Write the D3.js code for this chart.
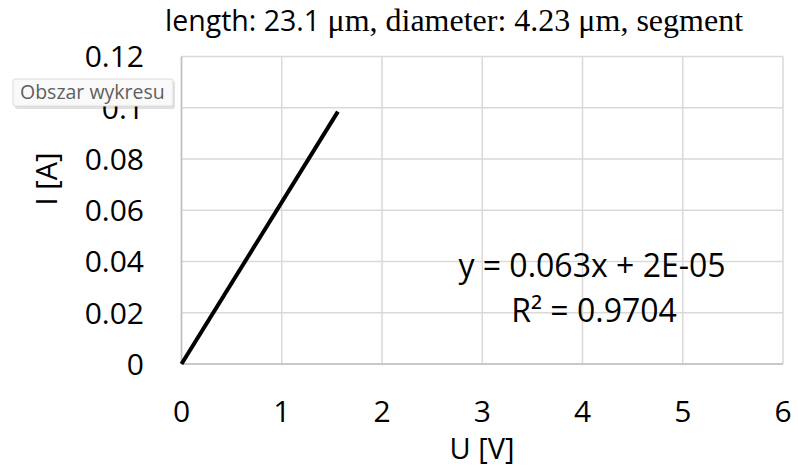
<!DOCTYPE html>
<html>
<meta charset="utf-8">
<style>
  body { margin: 0; background: #fff; }
  .grid line { stroke: #d9d9d9; stroke-width: 1.5; }
  .tick-label { font-family: "Open Sans", sans-serif; font-size: 30px; fill: #000; }
  .axis-title { font-family: "Open Sans", sans-serif; font-size: 29px; fill: #000; }
  .title { font-size: 32px; fill: #000; }
  .eq { font-family: "Open Sans", sans-serif; font-size: 32px; fill: #000; }
</style>

<body>
  <script src="https://d3js.org/d3.v7.min.js"></script>

  <script>
    let width = 798,
      height = 467;

    // data
    let uValues = [0, 1.56];
    let iValues = [0, 0.0985];
    let xTicks = [0, 1, 2, 3, 4, 5, 6];
    let yTicks = [0, 0.02, 0.04, 0.06, 0.08, 0.1, 0.12];
    let yTickLabels = ["0", "0.02", "0.04", "0.06", "0.08", "0.1", "0.12"];
    let equationLines = ["y = 0.063x + 2E-05", "R² = 0.9704"];

    let x = d3.scaleLinear().domain([0, 6]).range([181.5, 783]);
    let y = d3.scaleLinear().domain([0, 0.12]).range([364, 56.5]);

    let svg = d3.select("body").append("svg")
      .attr("width", width)
      .attr("height", height);

    // gridlines
    let grid = svg.append("g").attr("class", "grid");
    grid.selectAll(".hgrid")
      .data(yTicks)
      .join("line")
      .attr("x1", x(0)).attr("x2", x(6))
      .attr("y1", d => y(d)).attr("y2", d => y(d));
    grid.selectAll(".vgrid")
      .data(xTicks)
      .join("line")
      .attr("y1", y(0)).attr("y2", y(0.12))
      .attr("x1", d => x(d)).attr("x2", d => x(d));

    // axis lines
    svg.append("line")
      .attr("x1", x(0)).attr("x2", x(0))
      .attr("y1", y(0)).attr("y2", y(0.12))
      .attr("stroke", "#bfbfbf").attr("stroke-width", 1.5);
    svg.append("line")
      .attr("x1", x(0)).attr("x2", x(6))
      .attr("y1", y(0)).attr("y2", y(0))
      .attr("stroke", "#bfbfbf").attr("stroke-width", 1.5);

    // tick labels
    svg.selectAll(".ylab")
      .data(yTicks)
      .join("text")
      .attr("class", "tick-label")
      .attr("x", 144)
      .attr("y", d => y(d))
      .attr("dy", "0.36em")
      .attr("text-anchor", "end")
      .text((d, i) => yTickLabels[i]);

    svg.selectAll(".xlab")
      .data(xTicks)
      .join("text")
      .attr("class", "tick-label")
      .attr("x", d => x(d))
      .attr("y", 422)
      .attr("text-anchor", "middle")
      .text(d => d);

    // axis titles
    svg.append("text")
      .attr("class", "axis-title")
      .attr("x", 482)
      .attr("y", 459)
      .attr("text-anchor", "middle")
      .text("U [V]");

    svg.append("text")
      .attr("class", "axis-title")
      .attr("transform", "translate(57,179) rotate(-90)")
      .attr("text-anchor", "middle")
      .text("I [A]");

    // title: first part sans, the rest serif
    let title = svg.append("text")
      .attr("class", "title")
      .attr("x", 165)
      .attr("y", 31);
    title.append("tspan")
      .attr("font-family", "Open Sans, sans-serif")
      .attr("font-size", 28.5)
      .text("length: 23.1 ");
    title.append("tspan")
      .attr("font-family", "Liberation Serif, serif")
      .text("μm, diameter: 4.23 μm, segment");

    // data line
    let line = d3.line()
      .x(d => x(d[0]))
      .y(d => y(d[1]));
    svg.append("path")
      .datum(uValues.map((u, i) => [u, iValues[i]]))
      .attr("fill", "none")
      .attr("stroke", "#000")
      .attr("stroke-width", 4)
      .attr("d", line);

    // trendline equation
    svg.selectAll(".eq")
      .data(equationLines)
      .join("text")
      .attr("class", "eq")
      .attr("x", (d, i) => i == 0 ? 592 : 594)
      .attr("y", (d, i) => 277 + i * 45)
      .attr("text-anchor", "middle")
      .text(d => d);

    // hover tooltip shown in the screenshot
    let tip = svg.append("g").attr("transform", "translate(13,79)");
    tip.append("rect")
      .attr("x", 2).attr("y", 2)
      .attr("width", 160).attr("height", 28)
      .attr("rx", 2)
      .attr("fill", "#000").attr("opacity", 0.12);
    tip.append("rect")
      .attr("width", 160).attr("height", 27)
      .attr("rx", 2)
      .attr("fill", "#f9f9f9")
      .attr("stroke", "#dcdcdc");
    tip.append("text")
      .attr("x", 7).attr("y", 20)
      .attr("font-family", "Open Sans, sans-serif")
      .attr("font-size", 19.5)
      .attr("fill", "#5f5f5f")
      .text("Obszar wykresu");
  </script>

</body>

</html>
